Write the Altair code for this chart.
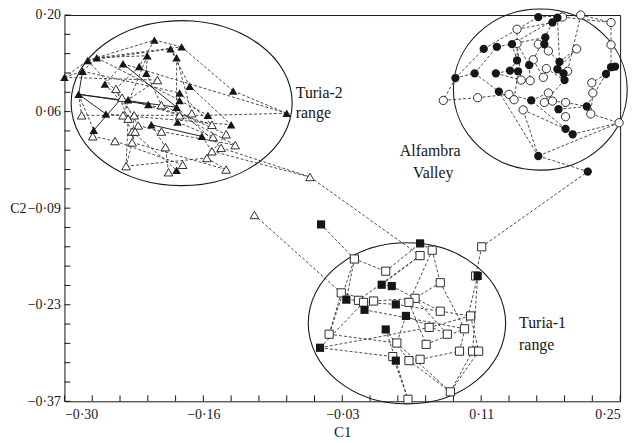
import altair as alt
import pandas as pd

FONT = "Liberation Serif"
INK = "#161616"

# ---------------- data (C1, C2) ----------------
# Turia-2 range, filled triangles
tf_x = [-0.211, -0.195, -0.184, -0.277, -0.268, -0.218, -0.189, -0.242, -0.226, -0.282,
        -0.219, -0.300, -0.260, -0.176, -0.133, -0.286, -0.186, -0.237, -0.186, -0.217,
        -0.189, -0.080, -0.259, -0.158, -0.188, -0.135, -0.214, -0.271, -0.164, -0.189]
tf_y = [0.163, 0.150, 0.153, 0.133, 0.137, 0.140, 0.137, 0.128, 0.124, 0.117,
        0.114, 0.108, 0.098, 0.095, 0.088, 0.083, 0.085, 0.075, 0.074, 0.068,
        0.064, 0.055, 0.054, 0.052, 0.042, 0.038, 0.038, 0.030, 0.021, -0.029]
# Turia-2 range, open triangles
to_x = [-0.208, -0.249, -0.243, -0.204, -0.174, -0.283, -0.231, -0.242, -0.237, -0.186,
        -0.154, -0.227, -0.204, -0.233, -0.230, -0.272, -0.140, -0.153, -0.250, -0.233,
        -0.200, -0.131, -0.145, -0.154, -0.159, -0.239, -0.183, -0.197, -0.140, -0.057,
        -0.112]
to_y = [0.104, 0.091, 0.078, 0.067, 0.055, 0.052, 0.052, 0.052, 0.047, 0.052,
        0.038, 0.037, 0.028, 0.028, 0.028, 0.021, 0.024, 0.020, 0.014, 0.012,
        0.005, 0.008, 0.004, -0.001, -0.011, -0.023, -0.021, -0.032, -0.028, -0.039,
        -0.095]
# Alfambra Valley, filled circles
af_x = [0.169, 0.183, 0.188, 0.115, 0.128, 0.143, 0.176, 0.175, 0.148, 0.160,
        0.190, 0.106, 0.127, 0.141, 0.149, 0.188, 0.194, 0.195, 0.087, 0.236,
        0.241, 0.245, 0.130, 0.162, 0.189, 0.217, 0.196, 0.203, 0.169, 0.218]
af_y = [0.197, 0.189, 0.196, 0.150, 0.153, 0.157, 0.167, 0.157, 0.133, 0.126,
        0.131, 0.114, 0.114, 0.118, 0.117, 0.120, 0.114, 0.104, 0.107, 0.113,
        0.123, 0.124, 0.087, 0.074, 0.061, 0.065, 0.032, 0.024, -0.008, -0.031]
# Alfambra Valley, open circles
ao_x = [0.193, 0.211, 0.241, 0.148, 0.148, 0.169, 0.179, 0.207, 0.241, 0.164,
        0.177, 0.198, 0.152, 0.161, 0.174, 0.222, 0.075, 0.109, 0.140, 0.145,
        0.179, 0.175, 0.183, 0.196, 0.223, 0.154, 0.196, 0.221, 0.249]
ao_y = [0.197, 0.200, 0.189, 0.179, 0.158, 0.157, 0.147, 0.150, 0.156, 0.134,
        0.121, 0.117, 0.104, 0.103, 0.108, 0.100, 0.074, 0.078, 0.083, 0.075,
        0.085, 0.071, 0.073, 0.071, 0.085, 0.060, 0.050, 0.054, 0.041]
# Turia-1 range, filled squares
sf_x = [-0.046, 0.052, 0.109, 0.014, 0.024, -0.021, -0.003, 0.028, 0.038, 0.018, -0.047, 0.028]
sf_y = [-0.109, -0.137, -0.185, -0.198, -0.200, -0.220, -0.235, -0.227, -0.244, -0.264, -0.291, -0.310]
# Turia-1 range, open squares
so_x = [0.113, 0.064, 0.052, -0.013, 0.018, 0.072, 0.107, -0.026, -0.009, -0.004,
        0.006, 0.047, 0.041, 0.072, 0.102, 0.096, 0.061, 0.079, -0.038, 0.029,
        0.058, 0.091, 0.104, 0.110, 0.025, 0.041, 0.052, 0.082, 0.040]
so_y = [-0.142, -0.147, -0.155, -0.160, -0.178, -0.195, -0.185, -0.210, -0.221, -0.224,
        -0.222, -0.218, -0.224, -0.237, -0.244, -0.263, -0.261, -0.271, -0.271, -0.284,
        -0.286, -0.296, -0.296, -0.296, -0.304, -0.310, -0.308, -0.356, -0.367]

# network links (dashed) and solid links
dashed_links = [
    "tf12-tf10", "tf12-to1", "tf12-tf4", "tf10-tf5", "tf4-tf1", "tf4-tf2", "tf5-tf3", "tf5-tf6",
    "tf4-to3", "tf10-tf17", "tf5-tf19", "tf3-tf15", "tf8-tf22", "tf2-tf14", "tf1-tf9", "tf2-tf7",
    "tf7-tf21", "tf7-to5", "tf6-tf11", "tf11-to4", "tf9-to2", "tf8-tf13", "tf13-to7", "tf16-to6",
    "to6-tf24", "tf16-tf28", "tf23-tf26", "tf18-to10", "to2-to9", "to3-to12", "tf20-to11",
    "to4-to17", "tf19-tf24", "to8-to14", "to7-to20", "to9-to26", "tf27-to21", "to12-to13",
    "to13-to22", "tf25-to18", "to15-to26", "to14-tf30", "to16-to19", "to19-to27", "tf17-to11",
    "to10-to22", "tf21-to23", "to20-to29", "to26-to25", "to25-to29", "to28-to21", "tf30-to27",
    "tf29-to24", "to17-to25", "tf14-tf26", "tf22-tf24", "tf15-tf22", "tf1-tf3", "to1-tf18",
    "tf6-to8", "to23-to30", "to24-to30",
    "af19-af4", "af19-ao17", "ao17-ao18", "ao18-ao19", "af19-af12", "af4-af1", "af5-af7",
    "af6-af3", "af1-ao2", "af3-ao1", "ao1-ao3", "ao2-ao3", "ao3-ao9", "ao9-af21", "af21-af22",
    "af20-ao16", "af20-af26", "ao16-ao25", "ao25-ao28", "ao28-ao29", "ao29-af29", "af29-af30",
    "af29-af23", "af29-ao26", "af27-af28", "af27-af24", "af28-ao29", "af25-ao27", "af23-ao20",
    "ao19-af24", "af24-ao21", "ao21-ao22", "ao22-ao23", "ao23-ao24", "ao24-af26", "af13-ao13",
    "af14-af9", "af9-ao4", "ao4-af2", "af8-ao6", "ao5-af10", "af10-ao14", "ao7-af11", "ao8-af16",
    "af16-af17", "af17-ao12", "ao10-ao15", "ao11-af18", "af18-ao22", "af15-ao20", "ao5-ao13",
    "af12-af5", "af13-af14", "af2-ao10", "af11-ao8", "ao26-af27", "af7-af8", "ao6-ao7",
    "af22-af20", "af25-af26", "af12-af23", "af6-af9", "ao15-ao11", "af3-af11", "ao2-ao12",
    "sf1-so4", "so4-sf6", "so4-so5", "so5-sf2", "sf2-so2", "so2-so6", "so6-so16", "so3-so9",
    "so3-sf4", "sf4-sf5", "sf5-so14", "so14-so15", "so15-so24", "so1-so7", "so7-sf3", "sf3-so23",
    "sf3-so22", "so8-so11", "so11-so12", "so12-so18", "sf6-so9", "so10-sf8", "sf8-so14",
    "sf7-so16", "so13-so21", "so19-so20", "so19-so4", "sf11-so17", "sf11-so25", "so25-so29",
    "sf12-so29", "so20-so28", "so26-so28", "so27-so22", "so28-so23", "so21-so16", "sf9-so18",
    "sf10-sf12", "so17-so15", "sf7-so11", "sf9-so20", "so6-so12", "sf10-so26", "so24-so28",
    "so13-so2", "so10-sf11", "so8-so19",
    "to30-so3", "to31-so8", "so1-af30",
]
solid_links = ["tf16-tf20", "tf16-tf21", "tf16-tf23", "tf8-tf21", "tf27-tf29", "tf28-to3", "tf10-tf16"]

# group outlines: centre and semi-axes in data units
ell_x = [-0.184, 0.171, 0.039]
ell_y = [0.070, 0.090, -0.255]
ell_rx = [0.1094, 0.0860, 0.0977]
ell_ry = [0.1217, 0.1189, 0.1189]

# annotations
txt = ["Turia-2", "range", "Alfambra", "Valley", "Turia-1", "range"]
txt_x = [-0.071, -0.071, 0.032, 0.045, 0.150, 0.150]
txt_y = [0.085, 0.055, 0.000, -0.033, -0.255, -0.287]

# axes
x_tick_values = [-0.30, -0.1625, -0.025, 0.1125, 0.25]
x_tick_labels = ["\u22120\u00b730", "\u22120\u00b716", "\u22120\u00b703", "0\u00b711", "0\u00b725"]
y_tick_values = [-0.37, -0.2275, -0.085, 0.0575, 0.20]
y_tick_labels = ["\u22120\u00b737", "\u22120\u00b723", "\u22120\u00b709", "0\u00b706", "0\u00b720"]

# ---------------- chart ----------------
W, H = 561, 390
XMIN, XMAX = -0.30, 0.25
YMIN, YMAX = -0.37, 0.20
FS = 14


def label_expr(vals, labels):
    expr = "'" + labels[-1] + "'"
    for i in range(len(vals) - 2, -1, -1):
        mid = (vals[i] + vals[i + 1]) / 2
        expr = f"datum.value < {mid} ? '{labels[i]}' : ({expr})"
    return expr


xsc = alt.Scale(domain=[XMIN, XMAX], nice=False, zero=False)
ysc = alt.Scale(domain=[YMIN, YMAX], nice=False, zero=False)
xaxis = alt.Axis(values=x_tick_values, labelExpr=label_expr(x_tick_values, x_tick_labels),
                 ticks=False, domain=False, grid=False, labelPadding=6, labelFont=FONT,
                 labelFontSize=FS, labelColor=INK, title="C1", titleFont=FONT, titleFontSize=15,
                 titleFontWeight="normal", titleColor=INK, titleY=31, titleBaseline="middle")
yaxis = alt.Axis(values=y_tick_values, labelExpr=label_expr(y_tick_values, y_tick_labels),
                 ticks=False, domain=False, grid=False, labelPadding=4, labelFont=FONT,
                 labelFontSize=FS, labelColor=INK, title="C2", titleFont=FONT, titleFontSize=14,
                 titleFontWeight="normal", titleColor=INK, titleAngle=0, titleAlign="center",
                 titleBaseline="middle", titleX=-47, titleY=H * (YMAX + 0.085) / (YMAX - YMIN))


def X(f="x"):
    return alt.X(f"{f}:Q", scale=xsc, axis=xaxis)


def Y(f="y"):
    return alt.Y(f"{f}:Q", scale=ysc, axis=yaxis)


groups = {"tf": (tf_x, tf_y), "to": (to_x, to_y), "af": (af_x, af_y),
          "ao": (ao_x, ao_y), "sf": (sf_x, sf_y), "so": (so_x, so_y)}
pts = {}
for g, (xs, ys) in groups.items():
    for i, (a, b) in enumerate(zip(xs, ys)):
        pts[f"{g}{i + 1}"] = (a, b)


def link_frame(links):
    rows = []
    for k, l in enumerate(links):
        a, b = l.split("-")
        for o, p in enumerate((a, b)):
            rows.append({"id": k, "o": o, "x": pts[p][0], "y": pts[p][1]})
    return pd.DataFrame(rows)


def gdf(g):
    xs, ys = groups[g]
    return pd.DataFrame({"x": xs, "y": ys})


# ellipses drawn as custom symbols (unit = 100 px, size 40000 -> radius scale 100)
ell_layers = []
for cx, cy, rx, ry in zip(ell_x, ell_y, ell_rx, ell_ry):
    a = rx * W / (XMAX - XMIN) / 100
    b = ry * H / (YMAX - YMIN) / 100
    path = f"M {-a:.4f} 0 A {a:.4f} {b:.4f} 0 1 0 {a:.4f} 0 A {a:.4f} {b:.4f} 0 1 0 {-a:.4f} 0 Z"
    ell_layers.append(
        alt.Chart(pd.DataFrame({"x": [cx], "y": [cy]})).mark_point(
            shape=path, size=40000, filled=False, stroke=INK, strokeWidth=1.1, opacity=1
        ).encode(x=X(), y=Y())
    )

dashed = alt.Chart(link_frame(dashed_links)).mark_line(
    strokeDash=[3, 2], strokeWidth=0.85, color="#2a2a2a"
).encode(x=X(), y=Y(), detail="id:N", order="o:Q")
solid = alt.Chart(link_frame(solid_links)).mark_line(
    strokeWidth=1.0, color="#222222"
).encode(x=X(), y=Y(), detail="id:N", order="o:Q")

# inward ticks
xt = pd.DataFrame({"x": [round(XMIN + 0.0275 * k, 4) for k in range(21)]})
yt = pd.DataFrame({"y": [round(YMIN + 0.0285 * k, 4) for k in range(21)]})
xticks = alt.Chart(xt).mark_rule(color=INK, strokeWidth=1).encode(
    x=X(), y=alt.value(H), y2=alt.value(H - 6))
yticks = alt.Chart(yt).mark_rule(color=INK, strokeWidth=1).encode(
    y=Y(), x=alt.value(0), x2=alt.value(6))


def filled(g, shape, size):
    return alt.Chart(gdf(g)).mark_point(shape=shape, size=size, filled=True, fill=INK,
                                        strokeWidth=0, opacity=1).encode(x=X(), y=Y())


def hollow(g, shape, size):
    return alt.Chart(gdf(g)).mark_point(shape=shape, size=size, filled=True, fill="white",
                                        stroke=INK, strokeWidth=0.9, opacity=1).encode(x=X(), y=Y())


labels = alt.Chart(pd.DataFrame({"t": txt, "x": txt_x, "y": txt_y})).mark_text(
    align="left", baseline="middle", font=FONT, fontSize=16, color=INK
).encode(x=X(), y=Y(), text="t:N")

chart = alt.layer(
    *ell_layers, dashed, solid, xticks, yticks,
    hollow("to", "triangle-up", 75), filled("tf", "triangle-up", 75),
    hollow("ao", "circle", 70), filled("af", "circle", 70),
    hollow("so", "square", 68), filled("sf", "square", 68),
    labels,
).properties(
    width=W, height=H,
    autosize=alt.AutoSizeParams(type="none"),
    padding={"left": 57, "top": 5, "right": 12, "bottom": 40},
    background="white",
).configure_view(stroke=INK, strokeWidth=1)

chart.save("out.html", embed_options={"renderer": "svg", "actions": False})
